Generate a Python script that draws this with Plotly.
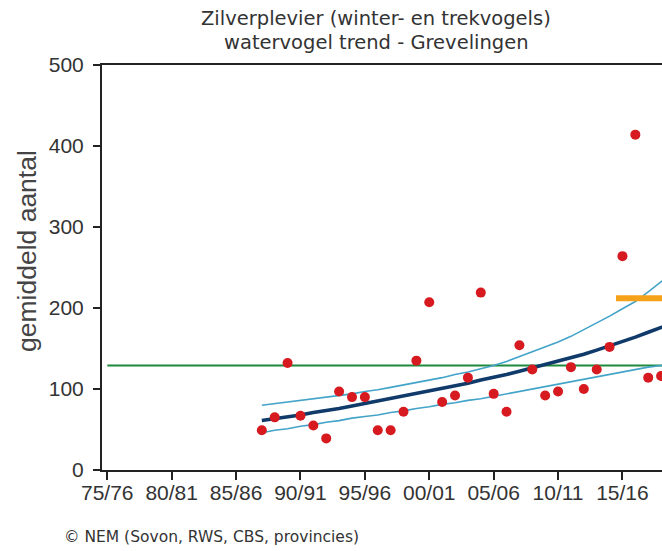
import plotly.graph_objects as go

# ---- data ----
years = list(range(1987, 2019))
counts = [49, 65, 132, 67, 55, 39, 97, 90, 90, 49, 49, 72, 135, 207, 84, 92,
          114, 219, 94, 72, 154, 124, 92, 97, 127, 100, 124, 152, 264, 414, 114, 116]

trend_years = list(range(1987, 2020))
trend = [61, 63, 66, 68, 71, 73, 76, 79, 82, 85, 88, 91, 94, 97, 100, 104, 107,
         111, 114, 118, 122, 126, 130, 134, 139, 143, 148, 153, 159, 164, 170, 176, 182]
upper = [80, 82, 84, 86, 88, 90, 92, 94, 97, 99, 102, 105, 108, 111, 114, 118, 121,
         125, 129, 134, 140, 146, 152, 158, 165, 173, 181, 190, 199, 208, 220, 232, 245]
lower = [46, 49, 51, 54, 56, 59, 61, 64, 66, 68, 71, 73, 76, 78, 81, 83, 86,
         88, 91, 94, 97, 100, 103, 106, 109, 112, 115, 118, 121, 124, 127, 129, 131]

reference_level = 129
reference_span = [1975, 2022]
recent_mean = 212
recent_span = [2014.5, 2019.5]

tick_years = [1975, 1980, 1985, 1990, 1995, 2000, 2005, 2010, 2015, 2020]
tick_labels = ["75/76", "80/81", "85/86", "90/91", "95/96", "00/01", "05/06", "10/11", "15/16", "20/21"]

# ---- layout geometry (body margin removed by post_script) ----
W, H = 662, 551
L, T, B, R = 102, 65, 81, 0
PW, PH = W - L - R, H - T - B


def px(x):
    return (x - L) / PW


def py(y):
    return (H - B - y) / PH


fig = go.Figure()

fig.add_trace(go.Scatter(x=reference_span, y=[reference_level] * 2, mode="lines",
                         line=dict(color="#1f8a3c", width=2), hoverinfo="skip"))
fig.add_trace(go.Scatter(x=trend_years, y=upper, mode="lines",
                         line=dict(color="#43a3c9", width=1.6), hoverinfo="skip"))
fig.add_trace(go.Scatter(x=trend_years, y=lower, mode="lines",
                         line=dict(color="#43a3c9", width=1.6), hoverinfo="skip"))
fig.add_trace(go.Scatter(x=trend_years, y=trend, mode="lines",
                         line=dict(color="#0f3a6a", width=3.6), hoverinfo="skip"))
fig.add_trace(go.Scatter(x=recent_span, y=[recent_mean] * 2, mode="lines",
                         line=dict(color="#f5a21a", width=6), hoverinfo="skip"))
fig.add_trace(go.Scatter(x=years, y=counts, mode="markers",
                         marker=dict(color="#d71920", size=10, line=dict(width=0))))

fig.update_layout(
    width=W, height=H,
    margin=dict(l=L, r=R, t=T, b=B, pad=0),
    paper_bgcolor="white", plot_bgcolor="white",
    showlegend=False,
    font=dict(family="Liberation Sans", color="#222"),
    xaxis=dict(range=[1974.59, 2018.07], tickvals=tick_years, ticktext=tick_labels,
               showgrid=False, zeroline=False, showline=True, linecolor="#222",
               linewidth=2, mirror=True, ticks="outside", ticklen=8, tickwidth=2,
               tickcolor="#222", ticklabelstandoff=-5,
               tickfont=dict(size=21, family="Liberation Sans", color="#333")),
    yaxis=dict(range=[0, 500], tickvals=[0, 100, 200, 300, 400, 500],
               showgrid=False, zeroline=False, showline=True, linecolor="#222",
               linewidth=2, ticks="outside", ticklen=7, tickwidth=2, tickcolor="#222",
               ticklabelstandoff=5,
               tickfont=dict(size=21, family="Liberation Sans", color="#333")),
    annotations=[
        dict(text="Zilverplevier (winter- en trekvogels)", x=px(376), y=py(18),
             xref="paper", yref="paper", showarrow=False, xanchor="center", yanchor="middle",
             font=dict(family="DejaVu Sans", size=19.5, color="#333")),
        dict(text="watervogel trend - Grevelingen", x=px(376), y=py(42),
             xref="paper", yref="paper", showarrow=False, xanchor="center", yanchor="middle",
             font=dict(family="DejaVu Sans", size=19.5, color="#333")),
        dict(text="gemiddeld aantal", x=px(27), y=py(251), textangle=-90,
             xref="paper", yref="paper", showarrow=False, xanchor="center", yanchor="middle",
             font=dict(family="Liberation Sans", size=26.5, color="#444")),
        dict(text="© NEM (Sovon, RWS, CBS, provincies)", x=px(62), y=py(537),
             xref="paper", yref="paper", showarrow=False, xanchor="left", yanchor="middle",
             font=dict(family="DejaVu Sans", size=15.5, color="#333")),
    ],
)

fig.write_html(
    "out.html",
    config={"displayModeBar": False},
    post_script="document.body.style.margin='0px';document.body.style.overflow='hidden';",
)
